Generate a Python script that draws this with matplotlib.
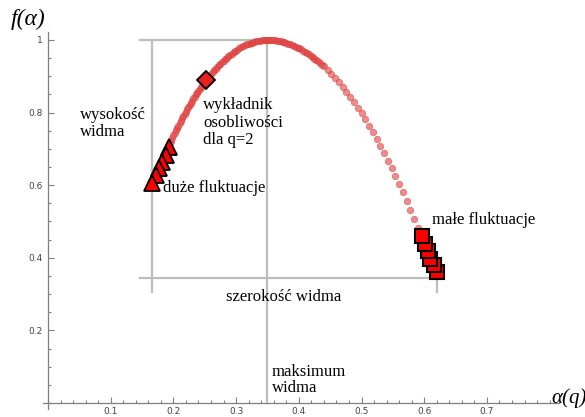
import matplotlib
matplotlib.use('Agg')
from matplotlib import pyplot as plt
from matplotlib.ticker import MultipleLocator, FixedLocator

# singularity spectrum f(alpha), left branch (q > 0) and right branch (q < 0)
alpha_left = [0.166, 0.170, 0.174, 0.178, 0.182, 0.186, 0.190, 0.194, 0.198, 0.202,
              0.206, 0.210, 0.214, 0.218, 0.222, 0.226, 0.230, 0.234, 0.238, 0.242,
              0.246, 0.250, 0.255, 0.260, 0.265, 0.270, 0.275, 0.280, 0.285, 0.290,
              0.296, 0.302, 0.308, 0.314, 0.320, 0.326, 0.332, 0.338, 0.344, 0.350]
f_left = [0.606, 0.622, 0.638, 0.654, 0.670, 0.686, 0.701, 0.716, 0.730, 0.744,
          0.757, 0.771, 0.784, 0.797, 0.809, 0.821, 0.833, 0.844, 0.855, 0.865,
          0.874, 0.884, 0.895, 0.906, 0.916, 0.926, 0.935, 0.943, 0.951, 0.958,
          0.966, 0.973, 0.980, 0.985, 0.990, 0.993, 0.996, 0.998, 1.000, 1.000]
alpha_right = [0.356, 0.362, 0.368, 0.374, 0.380, 0.386, 0.392, 0.398, 0.404, 0.410,
               0.416, 0.422, 0.428, 0.434, 0.440, 0.446, 0.452, 0.458, 0.464, 0.470,
               0.476, 0.482, 0.488, 0.494, 0.500, 0.506, 0.512, 0.518, 0.524, 0.530,
               0.536, 0.542, 0.548, 0.554, 0.560, 0.566, 0.572, 0.578, 0.584, 0.590]
f_right = [1.000, 0.999, 0.997, 0.995, 0.992, 0.988, 0.984, 0.979, 0.974, 0.968,
           0.961, 0.953, 0.945, 0.936, 0.927, 0.917, 0.906, 0.895, 0.883, 0.870,
           0.857, 0.843, 0.829, 0.813, 0.798, 0.781, 0.764, 0.746, 0.728, 0.708,
           0.689, 0.668, 0.647, 0.625, 0.603, 0.580, 0.556, 0.532, 0.507, 0.482]
# extra q values where the spectrum is densely sampled (around the maximum)
alpha_dense = [0.168, 0.172, 0.176, 0.180, 0.184, 0.188, 0.192, 0.196, 0.200, 0.204,
               0.208, 0.212, 0.216, 0.220, 0.224, 0.228, 0.232, 0.236, 0.240, 0.244,
               0.248, 0.2525, 0.2575, 0.2625, 0.2675, 0.2725, 0.2775, 0.2825, 0.2875,
               0.293, 0.299, 0.305, 0.311, 0.317, 0.323, 0.329, 0.335, 0.341, 0.347,
               0.353, 0.359, 0.365, 0.371, 0.377, 0.383, 0.389, 0.395, 0.401, 0.407,
               0.413, 0.419, 0.425, 0.431, 0.437]
f_dense = [0.614, 0.630, 0.646, 0.662, 0.678, 0.694, 0.709, 0.723, 0.737, 0.751,
           0.764, 0.778, 0.791, 0.803, 0.815, 0.827, 0.839, 0.850, 0.860, 0.870,
           0.879, 0.890, 0.901, 0.911, 0.921, 0.931, 0.939, 0.947, 0.955,
           0.962, 0.970, 0.977, 0.983, 0.988, 0.992, 0.995, 0.997, 0.999, 1.000,
           1.000, 1.000, 0.998, 0.996, 0.994, 0.990, 0.986, 0.982, 0.977, 0.971,
           0.965, 0.957, 0.949, 0.941, 0.932]

# large fluctuations (q >> 0), small fluctuations (q << 0), q = 2
alpha_big = [0.166, 0.172, 0.177, 0.182, 0.188, 0.193]
f_big = [0.606, 0.627, 0.646, 0.664, 0.684, 0.704]
alpha_small = [0.596, 0.601, 0.606, 0.610, 0.615, 0.620]
f_small = [0.460, 0.438, 0.418, 0.398, 0.379, 0.360]
alpha_q2 = 0.252
f_q2 = 0.889

# spectrum width / height / maximum
alpha_min, alpha_max, alpha_0 = 0.166, 0.620, 0.349
f_max, f_base = 1.0, 0.344

plt.rcParams['font.family'] = ['Liberation Serif', 'DejaVu Serif']

fig = plt.figure(figsize=(5.85, 4.17), dpi=100)
ax = fig.add_axes([43 / 585, 8 / 417, 516 / 585, 377 / 417])
ax.set_xlim(-0.008, 0.815)
ax.set_ylim(-0.0165, 1.022)

for side in ['top', 'right']:
    ax.spines[side].set_visible(False)
for side in ['left', 'bottom']:
    ax.spines[side].set_position(('data', 0))
    ax.spines[side].set_color('#808080')
    ax.spines[side].set_linewidth(0.9)

ax.xaxis.set_major_locator(FixedLocator([0.1, 0.2, 0.3, 0.4, 0.5, 0.6, 0.7]))
ax.xaxis.set_minor_locator(MultipleLocator(0.02))
ax.yaxis.set_major_locator(FixedLocator([0.2, 0.4, 0.6, 0.8, 1.0]))
ax.yaxis.set_minor_locator(MultipleLocator(0.05))
ax.set_yticklabels(['0.2', '0.4', '0.6', '0.8', '1'])
ax.tick_params(which='both', direction='in', color='#808080', width=0.8,
               labelsize=6.5, labelcolor='#444444')
ax.tick_params(which='major', length=4.5)
ax.tick_params(which='minor', length=2.5)
ax.tick_params(axis='x', pad=3)
ax.tick_params(axis='y', pad=4)
for lab in ax.get_xticklabels() + ax.get_yticklabels():
    lab.set_family('DejaVu Sans')

# guide lines
grey = '#bdbdbd'
ax.plot([alpha_min, alpha_min], [0.306, f_max], color=grey, lw=1.6, zorder=1)
ax.plot([alpha_0, alpha_0], [0, f_max], color=grey, lw=1.6, zorder=1)
ax.plot([alpha_max, alpha_max], [0.306, f_base], color=grey, lw=1.6, zorder=1)
ax.plot([0.147, alpha_0], [f_max, f_max], color=grey, lw=1.6, zorder=1)
ax.plot([0.147, alpha_max], [f_base, f_base], color=grey, lw=1.6, zorder=1)

# spectrum points
ax.scatter(alpha_left + alpha_right + alpha_dense, f_left + f_right + f_dense,
           s=22, color='#e64444', edgecolors='#d03a3a', linewidths=0.5,
           alpha=0.62, zorder=2)

ax.plot(alpha_big[::-1], f_big[::-1], ls='none', marker='^', ms=11,
        mfc='#ff0000', mec='black', mew=1.3, zorder=3)
ax.plot(alpha_small[::-1], f_small[::-1], ls='none', marker='s', ms=10,
        mfc='#ff0000', mec='black', mew=1.5, zorder=3)
ax.plot([alpha_q2], [f_q2], ls='none', marker='D', ms=9,
        mfc='#e82020', mec='black', mew=1.3, zorder=3)

fs = 12
ax.text(0.051, 0.815, 'wysokość\nwidma', fontsize=fs, va='top', linespacing=1.1)
ax.text(0.247, 0.842, 'wykładnik\nosobliwości\ndla q=2', fontsize=fs, va='top',
        linespacing=1.1)
ax.text(0.183, 0.591, 'duże fluktuacje', fontsize=fs, va='center')
ax.text(0.612, 0.505, 'małe fluktuacje', fontsize=fs, va='center')
ax.text(0.284, 0.292, 'szerokość widma', fontsize=fs, va='center')
ax.text(0.357, 0.108, 'maksimum\nwidma', fontsize=fs, va='top', linespacing=1.05)

fig.text(11 / 585, 1 - 19 / 417, 'f(α)', fontsize=17, style='italic', va='center')
fig.text(551 / 585, 1 - 398 / 417, 'α(q)', fontsize=15, style='italic', va='center')

fig.savefig('out.png', dpi=100)
